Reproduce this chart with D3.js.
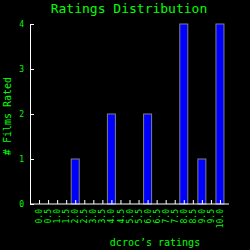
<!DOCTYPE html>
<html>
<head>
<meta charset="utf-8">
<script src="https://cdn.jsdelivr.net/npm/d3@7"></script>
<style>
  body { margin: 0; background: #000; }
  text { font-family: "DejaVu Sans Mono", "Liberation Mono", monospace; fill: #00ff00; }
</style>
</head>
<body>
<svg id="chart" width="250" height="250"></svg>
<script>
// rating buckets and how many films got each one
const ratings = ["0.0","0.5","1.0","1.5","2.0","2.5","3.0","3.5","4.0","4.5","5.0",
                 "5.5","6.0","6.5","7.0","7.5","8.0","8.5","9.0","9.5","10.0"];
const counts = [0,0,0,0,1,0,0,0,2,0,0,0,2,0,0,0,4,0,1,0,4];
const yTicks = [0, 1, 2, 3, 4];

const svg = d3.select("#chart");
const plot = { left: 30, right: 229, top: 24, bottom: 204 };

svg.append("rect").attr("width", 250).attr("height", 250).attr("fill", "#000");

// Scales
const x = d3.scalePoint()
    .domain(ratings)
    .range([plot.left, plot.right])
    .padding(1);

const y = d3.scaleLinear()
    .domain([0, 4])
    .range([plot.bottom, plot.top]);

const barW = 8;

// Bars
svg.selectAll("rect.bar")
    .data(counts.map((c, i) => ({ r: ratings[i], c: c })).filter(d => d.c > 0))
    .enter()
    .append("rect")
    .attr("class", "bar")
    .attr("x", d => x(d.r) - barW / 2)
    .attr("y", d => y(d.c))
    .attr("width", barW)
    .attr("height", d => y(0) - y(d.c))
    .attr("fill", "#0000ff")
    .attr("stroke", "#808080")
    .attr("stroke-width", 1);

// x axis: ticks point up, labels rotated
const xAxis = svg.append("g")
    .attr("transform", "translate(0," + plot.bottom + ")")
    .call(d3.axisBottom(x).tickSizeInner(-4).tickSizeOuter(0).tickPadding(5));
xAxis.select(".domain").attr("stroke", "#fff").attr("d", "M" + plot.left + ",0H" + plot.right);
xAxis.selectAll(".tick line").attr("stroke", "#fff");
xAxis.selectAll("text")
    .attr("fill", null)
    .attr("font-size", 8)
    .attr("transform", "rotate(-90)")
    .attr("text-anchor", "end")
    .attr("x", -5)
    .attr("y", 0)
    .attr("dy", "0.32em");

// y axis: ticks point right
const yAxis = svg.append("g")
    .attr("transform", "translate(" + plot.left + ",0)")
    .call(d3.axisLeft(y).tickValues(yTicks).tickFormat(d3.format("d"))
        .tickSizeInner(-4).tickSizeOuter(0).tickPadding(6));
yAxis.select(".domain").attr("stroke", "#fff");
yAxis.selectAll(".tick line").attr("stroke", "#fff");
yAxis.selectAll("text").attr("fill", null).attr("font-size", 8);

// Titles
svg.append("text")
    .attr("x", 129).attr("y", 13)
    .attr("text-anchor", "middle")
    .attr("font-size", 13)
    .text("Ratings Distribution");

svg.append("text")
    .attr("transform", "translate(11,116) rotate(-90)")
    .attr("text-anchor", "middle")
    .attr("font-size", 10)
    .text("# Films Rated");

svg.append("text")
    .attr("x", 155).attr("y", 246)
    .attr("text-anchor", "middle")
    .attr("font-size", 10)
    .text("dcroc\u2019s ratings");
</script>
</body>
</html>
